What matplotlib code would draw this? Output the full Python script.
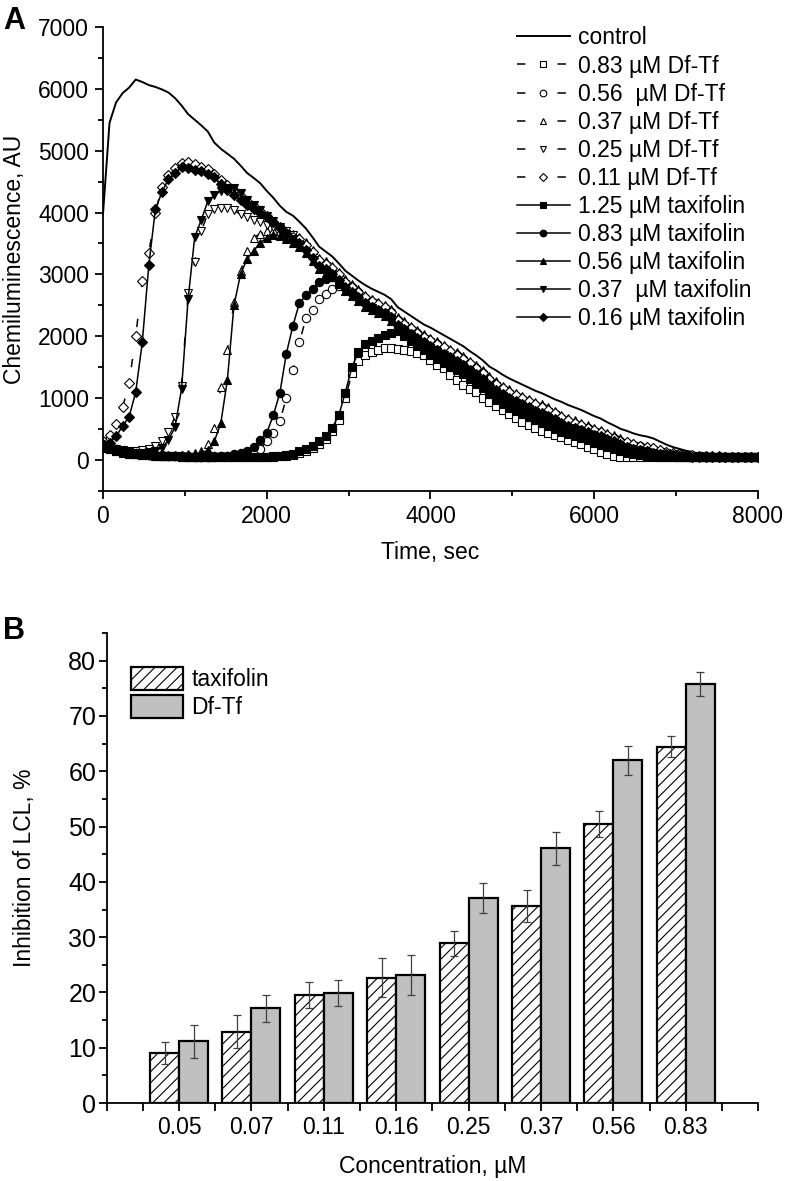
import numpy as np
import matplotlib.pyplot as plt
from matplotlib.ticker import MultipleLocator

plt.rcParams['font.family'] = ['Liberation Sans', 'DejaVu Sans']
plt.rcParams['font.size'] = 16.5
plt.rcParams['hatch.linewidth'] = 0.8

# --- panel A: chemiluminescence kinetics, one reading every 80 s (0..8000 s) ---
DT = 80

control = [
    3970, 5450, 5780, 5930, 6020, 6150, 6110, 6060, 6030, 5990,
    5940, 5850, 5730, 5590, 5500, 5410, 5310, 5130, 5030, 4950,
    4870, 4760, 4640, 4560, 4475, 4350, 4240, 4110, 4010, 3950,
    3850, 3740, 3600, 3450, 3370, 3290, 3180, 3060, 2980, 2900,
    2830, 2770, 2720, 2670, 2600, 2470, 2400, 2330, 2260, 2190,
    2140, 2080, 2020, 1960, 1900, 1840, 1760, 1690, 1610, 1510,
    1450, 1380, 1320, 1270, 1220, 1170, 1120, 1080, 1030, 980,
    940, 890, 850, 810, 760, 710, 670, 610, 560, 505,
    470, 430, 400, 380, 350, 300, 250, 210, 180, 150,
    130, 100, 80, 70, 60, 55, 50, 50, 50, 50,
    50]

df_083 = [
    220, 180, 150, 125, 105, 90, 80, 75, 70, 65,
    60, 60, 55, 55, 50, 50, 50, 50, 50, 50,
    50, 50, 50, 50, 50, 50, 55, 60, 65, 80,
    120, 150, 200, 260, 340, 470, 650, 1000, 1400, 1600,
    1700, 1740, 1780, 1810, 1810, 1800, 1780, 1760, 1730, 1700,
    1620, 1530, 1480, 1380, 1290, 1220, 1150, 1100, 1000, 930,
    870, 810, 750, 680, 620, 570, 520, 470, 430, 400,
    365, 330, 290, 255, 210, 170, 125, 90, 65, 50,
    45, 45, 45, 45, 45, 45, 45, 45, 45, 45,
    45, 45, 45, 45, 45, 45, 45, 45, 45, 45,
    45]

df_056 = [
    240, 200, 170, 140, 120, 100, 90, 80, 75, 70,
    65, 60, 60, 55, 55, 55, 55, 55, 60, 60,
    70, 80, 100, 130, 180, 300, 430, 630, 1000, 1450,
    1900, 2300, 2420, 2600, 2680, 2760, 2820, 2830, 2790, 2720,
    2620, 2560, 2510, 2460, 2390, 2260, 2190, 2120, 2050, 1980,
    1930, 1870, 1810, 1750, 1690, 1630, 1550, 1480, 1400, 1300,
    1220, 1150, 1090, 1040, 990, 940, 890, 850, 800, 750,
    680, 630, 590, 550, 510, 470, 440, 390, 350, 305,
    280, 250, 220, 200, 180, 150, 120, 100, 90, 80,
    70, 65, 60, 55, 55, 50, 50, 50, 50, 50,
    50]

df_037 = [
    250, 210, 175, 150, 130, 110, 100, 90, 85, 80,
    75, 75, 80, 90, 110, 150, 260, 520, 1180, 1780,
    2550, 3050, 3380, 3590, 3660, 3700, 3710, 3700, 3680, 3660,
    3610, 3520, 3400, 3270, 3210, 3140, 3040, 2920, 2840, 2760,
    2670, 2610, 2560, 2510, 2440, 2310, 2240, 2170, 2100, 2030,
    1980, 1920, 1860, 1800, 1740, 1680, 1600, 1530, 1450, 1350,
    1270, 1200, 1140, 1090, 1040, 990, 940, 900, 850, 800,
    730, 680, 640, 600, 560, 520, 490, 440, 400, 355,
    310, 280, 250, 230, 210, 180, 150, 125, 105, 90,
    80, 70, 65, 60, 60, 55, 55, 50, 50, 50,
    50]

df_025 = [
    250, 210, 180, 160, 150, 150, 160, 180, 220, 300,
    450, 700, 1200, 2700, 3200, 3700, 3980, 4060, 4080, 4070,
    4040, 3970, 3920, 3880, 3840, 3800, 3770, 3740, 3700, 3640,
    3530, 3440, 3320, 3190, 3130, 3060, 2960, 2840, 2760, 2680,
    2590, 2530, 2480, 2430, 2360, 2230, 2160, 2090, 2020, 1950,
    1900, 1840, 1780, 1720, 1660, 1600, 1520, 1450, 1370, 1270,
    1190, 1120, 1060, 1010, 960, 910, 860, 820, 770, 720,
    650, 600, 560, 520, 480, 440, 410, 360, 320, 275,
    250, 220, 190, 170, 150, 130, 110, 90, 80, 70,
    65, 60, 55, 55, 50, 50, 50, 50, 50, 50,
    50]

df_011 = [
    300, 410, 580, 850, 1250, 2000, 2900, 3350, 4000, 4420,
    4600, 4720, 4800, 4810, 4780, 4740, 4700, 4620, 4520, 4440,
    4360, 4270, 4180, 4100, 4020, 3940, 3850, 3760, 3670, 3600,
    3570, 3480, 3360, 3230, 3170, 3100, 3000, 2880, 2800, 2720,
    2630, 2570, 2520, 2470, 2400, 2270, 2200, 2130, 2060, 1990,
    1940, 1880, 1820, 1760, 1700, 1640, 1560, 1490, 1410, 1310,
    1230, 1160, 1100, 1050, 1000, 950, 900, 860, 810, 760,
    690, 640, 600, 560, 520, 480, 450, 400, 360, 315,
    290, 260, 230, 210, 190, 160, 130, 110, 95, 85,
    75, 70, 65, 60, 60, 55, 55, 50, 50, 50,
    50]

tf_125 = [
    200, 170, 140, 120, 100, 90, 80, 75, 70, 65,
    60, 60, 55, 55, 50, 50, 50, 50, 50, 50,
    50, 50, 50, 50, 55, 55, 60, 65, 75, 100,
    140, 180, 230, 300, 380, 520, 720, 1090, 1500, 1740,
    1870, 1930, 1980, 2020, 2050, 2080, 2010, 1930, 1850, 1770,
    1690, 1630, 1570, 1510, 1450, 1390, 1310, 1240, 1160, 1060,
    970, 900, 840, 790, 740, 690, 640, 600, 550, 500,
    460, 420, 390, 360, 320, 280, 250, 210, 180, 145,
    120, 100, 85, 70, 60, 55, 50, 50, 50, 50,
    50, 50, 50, 50, 50, 50, 50, 50, 50, 50,
    50]

tf_083 = [
    260, 220, 180, 150, 130, 110, 95, 85, 80, 75,
    70, 65, 60, 60, 55, 55, 55, 60, 60, 65,
    90, 110, 150, 210, 320, 440, 720, 1080, 1720, 2170,
    2540, 2660, 2770, 2880, 2930, 2950, 2870, 2780, 2700, 2620,
    2530, 2470, 2420, 2370, 2300, 2170, 2100, 2030, 1960, 1890,
    1830, 1770, 1710, 1650, 1590, 1530, 1450, 1380, 1300, 1200,
    1120, 1050, 990, 940, 890, 840, 790, 750, 700, 650,
    590, 540, 510, 480, 440, 400, 370, 330, 290, 245,
    215, 185, 160, 140, 120, 100, 85, 75, 65, 60,
    55, 55, 50, 50, 50, 50, 50, 50, 50, 50,
    50]

tf_056 = [
    230, 190, 160, 135, 115, 100, 90, 80, 75, 70,
    70, 70, 75, 80, 90, 110, 160, 300, 600, 1300,
    2500, 3000, 3250, 3380, 3510, 3590, 3640, 3620, 3580, 3510,
    3440, 3340, 3210, 3080, 3020, 2950, 2850, 2730, 2650, 2570,
    2480, 2420, 2370, 2320, 2250, 2120, 2050, 1980, 1910, 1840,
    1780, 1720, 1660, 1600, 1540, 1480, 1400, 1330, 1250, 1150,
    1070, 1000, 940, 890, 840, 790, 740, 700, 650, 600,
    540, 490, 460, 430, 390, 350, 320, 280, 240, 200,
    180, 150, 130, 115, 100, 85, 70, 60, 55, 50,
    50, 50, 50, 50, 50, 50, 50, 50, 50, 50,
    50]

tf_037 = [
    230, 190, 160, 140, 125, 115, 115, 125, 150, 200,
    320, 530, 1150, 2600, 3600, 3880, 4180, 4280, 4350, 4400,
    4400, 4320, 4200, 4120, 4040, 3950, 3860, 3760, 3660, 3580,
    3470, 3370, 3240, 3110, 3050, 2980, 2880, 2760, 2680, 2600,
    2510, 2450, 2400, 2350, 2280, 2150, 2080, 2010, 1940, 1870,
    1810, 1750, 1690, 1630, 1570, 1510, 1430, 1360, 1280, 1180,
    1100, 1030, 970, 920, 870, 820, 770, 730, 680, 630,
    570, 520, 490, 460, 420, 380, 350, 310, 270, 225,
    200, 170, 150, 130, 110, 95, 80, 70, 60, 55,
    50, 50, 50, 50, 50, 50, 50, 50, 50, 50,
    50]

tf_016 = [
    250, 280, 380, 550, 700, 1100, 1900, 3150, 4050, 4330,
    4540, 4640, 4740, 4720, 4690, 4670, 4630, 4570, 4460, 4370,
    4290, 4200, 4120, 4050, 3990, 3930, 3850, 3750, 3650, 3560,
    3500, 3400, 3270, 3140, 3080, 3010, 2910, 2790, 2710, 2630,
    2540, 2480, 2430, 2380, 2310, 2180, 2110, 2040, 1970, 1900,
    1840, 1780, 1720, 1660, 1600, 1540, 1460, 1390, 1310, 1210,
    1130, 1060, 1000, 950, 900, 850, 800, 760, 710, 660,
    600, 550, 520, 490, 450, 410, 380, 340, 300, 255,
    215, 180, 160, 140, 120, 105, 90, 75, 65, 60,
    55, 55, 50, 50, 50, 50, 50, 50, 50, 50,
    50]

# --- panel B: inhibition of luminol chemiluminescence ---
conc_labels = ['0.05', '0.07', '0.11', '0.16', '0.25', '0.37', '0.56', '0.83']
taxifolin_inh = [9.0, 12.9, 19.5, 22.7, 28.9, 35.6, 50.5, 64.4]
taxifolin_err = [2.0, 3.0, 2.4, 3.5, 2.3, 2.9, 2.3, 1.9]
dftf_inh = [11.2, 17.1, 19.9, 23.1, 37.1, 46.1, 62.0, 75.8]
dftf_err = [3.0, 2.5, 2.3, 3.6, 2.7, 3.0, 2.6, 2.1]

fig = plt.figure(figsize=(7.86, 11.81), dpi=100)

# ---------------- A ----------------
ax1 = fig.add_axes([0.1310, 0.5843, 0.8333, 0.3929])

ax1.plot(np.arange(len(control)) * DT, control, color='k', lw=1.4, label='control')

curves = [
    (df_083, 's', 'white', '0.83 µM Df-Tf'),
    (df_056, 'o', 'white', '0.56  µM Df-Tf'),
    (df_037, '^', 'white', '0.37 µM Df-Tf'),
    (df_025, 'v', 'white', '0.25 µM Df-Tf'),
    (df_011, 'D', 'white', '0.11 µM Df-Tf'),
    (tf_125, 's', 'k', '1.25 µM taxifolin'),
    (tf_083, 'o', 'k', '0.83 µM taxifolin'),
    (tf_056, '^', 'k', '0.56 µM taxifolin'),
    (tf_037, 'v', 'k', '0.37  µM taxifolin'),
    (tf_016, 'D', 'k', '0.16 µM taxifolin'),
]
for vals, mk, fc, lab in curves:
    t = np.arange(len(vals)) * DT
    ms = 5.2 if mk == 'D' else 6.0
    ls = (0, (5.5, 21)) if fc == 'white' else '-'
    ax1.plot(t, vals, ls=ls, lw=1.1, color='k', marker=mk, ms=ms,
             mfc=fc, mec='k', mew=0.8, label=lab)

ax1.set_xlim(0, 8000)
ax1.set_ylim(-500, 7000)
ax1.xaxis.set_major_locator(MultipleLocator(2000))
ax1.xaxis.set_minor_locator(MultipleLocator(1000))
ax1.yaxis.set_major_locator(MultipleLocator(1000))
ax1.yaxis.set_minor_locator(MultipleLocator(500))
for s in ['top', 'right']:
    ax1.spines[s].set_visible(False)
for s in ['left', 'bottom']:
    ax1.spines[s].set_linewidth(1.3)
ax1.tick_params(which='major', direction='out', length=6, width=1.3, pad=4)
ax1.tick_params(which='minor', direction='out', length=3.5, width=1.3)
ax1.set_xlabel('Time, sec')
ax1.set_ylabel('Chemiluminescence, AU')
ax1.xaxis.set_label_coords(0.5, -0.108)
ax1.yaxis.set_label_coords(-0.118, 0.5)

ax1.legend(loc='upper left', bbox_to_anchor=(0.632, 1.001), frameon=False,
           handlelength=2.3, handletextpad=0.35, labelspacing=0.22,
           borderpad=0, borderaxespad=0, markerscale=0.8)

# ---------------- B ----------------
ax2 = fig.add_axes([0.1357, 0.0660, 0.8290, 0.3980])
x = np.arange(1, len(conc_labels) + 1)

ax2.bar(x - 0.2, taxifolin_inh, width=0.4, color='white', edgecolor='k',
        hatch='///', lw=1.6, label='taxifolin', zorder=2)
ax2.bar(x + 0.2, dftf_inh, width=0.4, color='#c0c0c0', edgecolor='k',
        lw=1.6, label='Df-Tf', zorder=2)
ax2.errorbar(x - 0.2, taxifolin_inh, yerr=taxifolin_err, fmt='none',
             ecolor='#404040', elinewidth=0.9, capsize=3, capthick=0.9, zorder=3)
ax2.errorbar(x + 0.2, dftf_inh, yerr=dftf_err, fmt='none',
             ecolor='#404040', elinewidth=0.9, capsize=3, capthick=0.9, zorder=3)

ax2.set_xlim(0, 9)
ax2.set_ylim(0, 85)
ax2.set_xticks(x)
ax2.set_xticklabels(conc_labels, family=['Liberation Sans Narrow', 'Liberation Sans'])
ax2.xaxis.set_minor_locator(MultipleLocator(0.5))
ax2.yaxis.set_major_locator(MultipleLocator(10))
ax2.yaxis.set_minor_locator(MultipleLocator(5))
for s in ['top', 'right']:
    ax2.spines[s].set_visible(False)
for s in ['left', 'bottom']:
    ax2.spines[s].set_linewidth(1.3)
ax2.tick_params(which='both', direction='out', length=5.5, width=1.3)
ax2.tick_params(axis='y', which='minor', length=3.5)
ax2.tick_params(axis='y', pad=2, labelsize=18)
ax2.tick_params(axis='x', pad=4)
ax2.set_xlabel('Concentration, µM', family=['Liberation Sans Narrow', 'Liberation Sans'])
ax2.set_ylabel('Inhibition of LCL, %')
ax2.xaxis.set_label_coords(0.5, -0.11)
ax2.yaxis.set_label_coords(-0.108, 0.5)

ax2.legend(loc='upper left', bbox_to_anchor=(0.037, 0.927), frameon=False,
           handlelength=2.3, handleheight=1.13, handletextpad=0.35,
           labelspacing=0.18, borderpad=0, borderaxespad=0)

fig.text(0.004, 0.995, 'A', fontsize=22, fontweight='bold', va='top', ha='left')
fig.text(0.004, 0.478, 'B', fontsize=22, fontweight='bold', va='top', ha='left')

fig.savefig('out.png', dpi=100)
